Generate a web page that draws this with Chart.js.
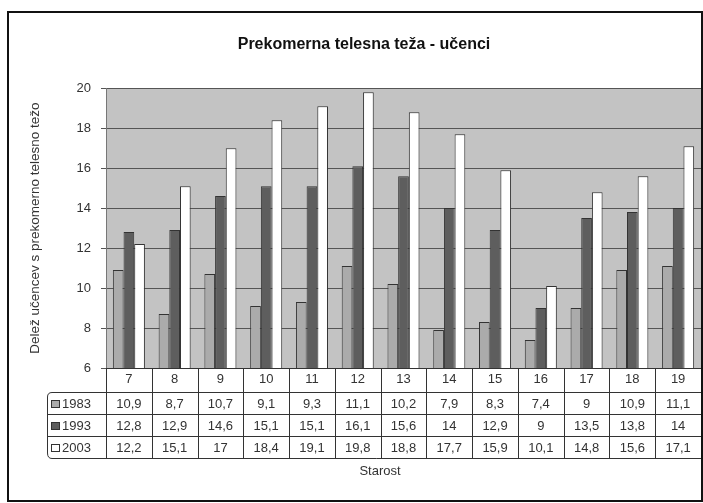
<!DOCTYPE html>
<html lang="sl">
<head>
    <meta charset="UTF-8">
    <title>Prekomerna telesna teža - učenci</title>
    <script src="https://cdn.jsdelivr.net/npm/chart.js"></script>
    <style>
        html, body {
            margin: 0;
            padding: 0;
            background: #fff;
        }

        .chart-container {
            width: 703px;
            height: 503px;
        }
    </style>
</head>
<body>
    <div class="chart-container">
        <canvas id="teaChart"></canvas>
    </div>

    <script>
        // Data
        const ages = ['7', '8', '9', '10', '11', '12', '13', '14', '15', '16', '17', '18', '19'];
        const years = ['1983', '1993', '2003'];
        const values1983 = [10.9, 8.7, 10.7, 9.1, 9.3, 11.1, 10.2, 7.9, 8.3, 7.4, 9, 10.9, 11.1];
        const values1993 = [12.8, 12.9, 14.6, 15.1, 15.1, 16.1, 15.6, 14, 12.9, 9, 13.5, 13.8, 14];
        const values2003 = [12.2, 15.1, 17, 18.4, 19.1, 19.8, 18.8, 17.7, 15.9, 10.1, 14.8, 15.6, 17.1];
        const yTicks = [6, 8, 10, 12, 14, 16, 18, 20];

        const barColors = ['#ababab', '#5e5e5e', '#ffffff'];
        const FONT = '"Liberation Sans", Arial, sans-serif';

        const fmt = v => String(v).replace('.', ',');

        // Draws the plot background, the data table, the x title and the frame
        const tablePlugin = {
            id: 'tablePlugin',
            beforeDraw(chart) {
                // paint the grey plot area before grid lines and bars
                const { ctx, chartArea } = chart;
                ctx.save();
                ctx.fillStyle = '#c3c3c3';
                ctx.fillRect(chartArea.left, chartArea.top, chartArea.right - chartArea.left, chartArea.bottom - chartArea.top);
                ctx.restore();
            },
            afterDraw(chart) {
                const { ctx, chartArea } = chart;
                const x = chart.scales.x;
                const n = ages.length;
                const colW = (chartArea.right - chartArea.left) / n;
                const rowH = 22;
                const catTop = chartArea.bottom;
                const catBottom = catTop + 24;
                const tableLeft = 47;
                const tableBottom = catBottom + rowH * 3;

                ctx.save();
                ctx.strokeStyle = '#333';
                ctx.lineWidth = 1;

                // category row box
                ctx.strokeRect(chartArea.left + 0.5, catTop + 0.5, chartArea.right - chartArea.left, catBottom - catTop);

                // column separators through category row and table
                for (let i = 1; i < n; i++) {
                    const px = Math.round(x.getPixelForValue(i) - colW / 2) + 0.5;
                    ctx.beginPath();
                    ctx.moveTo(px, catTop);
                    ctx.lineTo(px, tableBottom);
                    ctx.stroke();
                }

                // table outer box with rounded bottom-left corner
                ctx.beginPath();
                ctx.moveTo(chartArea.right + 0.5, catBottom);
                ctx.lineTo(chartArea.right + 0.5, tableBottom + 0.5);
                ctx.lineTo(tableLeft + 5, tableBottom + 0.5);
                ctx.quadraticCurveTo(tableLeft + 0.5, tableBottom + 0.5, tableLeft + 0.5, tableBottom - 5);
                ctx.lineTo(tableLeft + 0.5, catBottom + 5);
                ctx.quadraticCurveTo(tableLeft + 0.5, catBottom + 0.5, tableLeft + 5, catBottom + 0.5);
                ctx.lineTo(chartArea.right + 0.5, catBottom + 0.5);
                ctx.stroke();

                // row separators
                for (let r = 1; r < 3; r++) {
                    const py = catBottom + rowH * r + 0.5;
                    ctx.beginPath();
                    ctx.moveTo(tableLeft, py);
                    ctx.lineTo(chartArea.right, py);
                    ctx.stroke();
                }
                // legend column separator
                ctx.beginPath();
                ctx.moveTo(chartArea.left + 0.5, catBottom);
                ctx.lineTo(chartArea.left + 0.5, tableBottom);
                ctx.stroke();

                // legend keys and values
                const series = [values1983, values1993, values2003];
                ctx.font = '13px ' + FONT;
                ctx.textBaseline = 'middle';
                series.forEach((vals, r) => {
                    const cy = catBottom + rowH * r + rowH / 2 + 1;
                    ctx.fillStyle = barColors[r];
                    ctx.fillRect(51, cy - 4, 9, 8);
                    ctx.strokeStyle = '#333';
                    ctx.strokeRect(51.5, cy - 3.5, 8, 7);
                    ctx.fillStyle = '#333';
                    ctx.textAlign = 'left';
                    ctx.fillText(years[r], 62, cy);
                    ctx.textAlign = 'center';
                    vals.forEach((v, i) => {
                        ctx.fillText(fmt(v), x.getPixelForValue(i), cy);
                    });
                });

                // x-axis title
                ctx.textAlign = 'center';
                ctx.fillText('Starost', 380, tableBottom + 13);

                // outer frame
                ctx.strokeStyle = '#111';
                ctx.lineWidth = 2;
                ctx.strokeRect(8, 12, 694, 489);
                ctx.restore();
            }
        };

        const ctx = document.getElementById('teaChart').getContext('2d');
        const teaChart = new Chart(ctx, {
            type: 'bar',
            data: {
                labels: ages,
                datasets: years.map((yr, k) => ({
                    label: yr,
                    data: [values1983, values1993, values2003][k],
                    backgroundColor: barColors[k],
                    borderColor: '#333',
                    borderWidth: 1,
                    borderSkipped: 'bottom',
                    categoryPercentage: 0.7,
                    barPercentage: 1.0
                }))
            },
            options: {
                responsive: true,
                maintainAspectRatio: false,
                animation: false,
                devicePixelRatio: 1,
                layout: {
                    padding: { left: 27, right: 2, top: 12, bottom: 111 }
                },
                plugins: {
                    legend: { display: false },
                    tooltip: { enabled: false },
                    title: {
                        display: true,
                        text: 'Prekomerna telesna teža - učenci',
                        color: '#111',
                        font: { family: FONT, size: 16, weight: 'bold' },
                        padding: { top: 23, bottom: 34 }
                    }
                },
                scales: {
                    x: {
                        offset: true,
                        grid: { display: false },
                        border: { display: false },
                        ticks: {
                            color: '#333',
                            font: { family: FONT, size: 13 },
                            padding: -4
                        },
                        afterFit(scale) { scale.height = 24; }
                    },
                    y: {
                        min: 6,
                        max: 20,
                        afterBuildTicks(scale) {
                            scale.ticks = yTicks.map(v => ({ value: v }));
                        },
                        grid: {
                            color: '#555',
                            lineWidth: 1,
                            tickLength: 5
                        },
                        border: { display: true, color: '#777' },
                        ticks: {
                            color: '#333',
                            font: { family: FONT, size: 13 },
                            padding: 10
                        },
                        title: {
                            display: true,
                            text: 'Delež učencev s prekomerno telesno težo',
                            color: '#333',
                            font: { family: FONT, size: 13.5 },
                            padding: 0
                        },
                        afterFit(scale) { scale.width = 79; }
                    }
                }
            },
            plugins: [tablePlugin]
        });
    </script>
</body>
</html>
